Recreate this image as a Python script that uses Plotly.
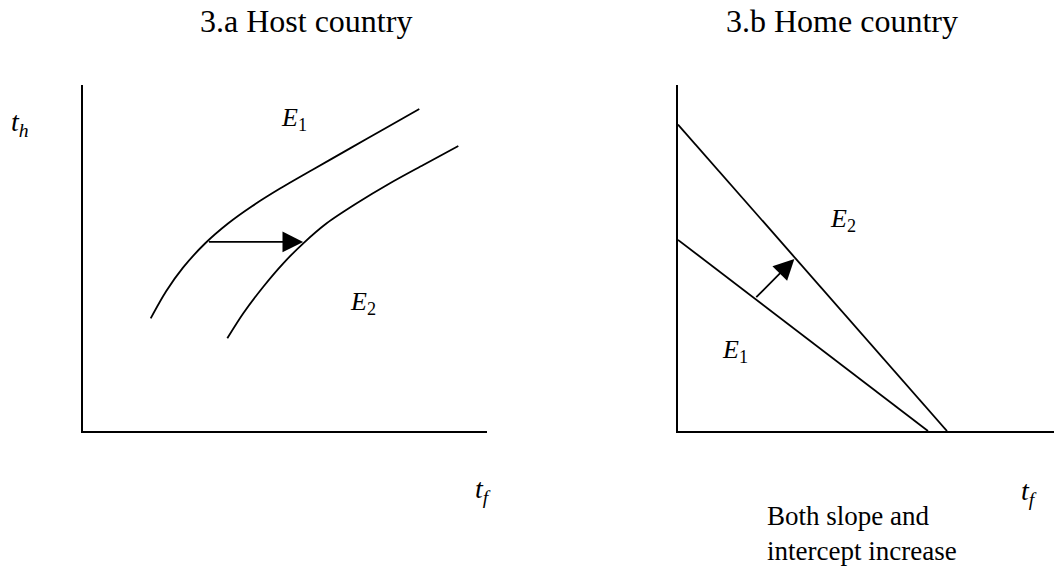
import plotly.graph_objects as go

# ---- data (diagram units, both panels span 0..10 on each axis) ----
host_e1_x = [1.676, 2.054, 2.475, 3.020, 3.589, 4.183, 4.876, 5.693, 6.609, 7.475, 8.324]
host_e1_y = [3.254, 4.028, 4.716, 5.414, 5.992, 6.491, 7.000, 7.551, 8.161, 8.735, 9.298]
host_e2_x = [3.572, 3.968, 4.463, 4.958, 5.453, 6.032, 6.775, 7.599, 8.423, 9.290]
host_e2_y = [2.677, 3.399, 4.167, 4.843, 5.420, 5.998, 6.575, 7.153, 7.681, 8.230]
host_arrow_from = (3.08, 5.46)
host_arrow_to = (5.45, 5.46)

home_upper_x = [0.0, 7.005]
home_upper_y = [8.85, 0.0]
home_lower_x = [0.0, 6.51]
home_lower_y = [5.52, 0.0]
home_arrow_from = (2.00, 3.82)
home_arrow_to = (3.03, 4.97)

titles = ["3.a Host country", "3.b Home country"]
note = "Both slope and<br>intercept increase"

# page has an 8px body margin; figure is sized so it ends at the window edge
OFF = 8
W, H = 1062 - OFF, 566 - OFF
def px(p):
    return (p - OFF) / W
def py(p):
    return 1 - (p - OFF) / H

SERIF = "Liberation Serif, Times New Roman, serif"
LW = 1.8

fig = go.Figure()
for xs, ys in [(host_e1_x, host_e1_y), (host_e2_x, host_e2_y)]:
    fig.add_trace(go.Scatter(x=xs, y=ys, mode="lines",
                             line=dict(color="black", width=LW, shape="spline", smoothing=0.8),
                             xaxis="x", yaxis="y", hoverinfo="skip"))
for xs, ys in [(home_upper_x, home_upper_y), (home_lower_x, home_lower_y)]:
    fig.add_trace(go.Scatter(x=xs, y=ys, mode="lines",
                             line=dict(color="black", width=LW),
                             xaxis="x2", yaxis="y2", hoverinfo="skip"))

ax_common = dict(showgrid=False, zeroline=False, showticklabels=False, ticks="",
                 showline=True, linecolor="black", linewidth=2, range=[0, 10],
                 fixedrange=True)
ydom = [py(431), py(84.7)]

fig.update_layout(
    width=W, height=H,
    margin=dict(l=0, r=0, t=0, b=0),
    paper_bgcolor="white", plot_bgcolor="white",
    showlegend=False,
    xaxis=dict(domain=[px(83), px(487)], anchor="y", **ax_common),
    yaxis=dict(domain=ydom, anchor="x", **ax_common),
    xaxis2=dict(domain=[px(678), 1.0], anchor="y2", **ax_common),
    yaxis2=dict(domain=ydom, anchor="x2", **ax_common),
)

ann = []
# arrows
ann.append(dict(x=host_arrow_to[0], y=host_arrow_to[1], ax=host_arrow_from[0], ay=host_arrow_from[1],
                xref="x", yref="y", axref="x", ayref="y", showarrow=True, text="",
                arrowhead=2, arrowsize=2.3, arrowwidth=1.8, arrowcolor="black", standoff=0))
ann.append(dict(x=home_arrow_to[0], y=home_arrow_to[1], ax=home_arrow_from[0], ay=home_arrow_from[1],
                xref="x2", yref="y2", axref="x2", ayref="y2", showarrow=True, text="",
                arrowhead=2, arrowsize=2.3, arrowwidth=1.8, arrowcolor="black", standoff=0))

def lab(text, x, y, xref, yref, size=26):
    ann.append(dict(text=text, x=x, y=y, xref=xref, yref=yref, showarrow=False,
                    font=dict(family=SERIF, size=size, color="black"),
                    xanchor="center", yanchor="middle"))

lab("<i>E</i><sub>1</sub>", 5.22, 9.0, "x", "y")
lab("<i>E</i><sub>2</sub>", 6.93, 3.7, "x", "y")
lab("<i>E</i><sub>2</sub>", 4.30, 6.08, "x2", "y2")
lab("<i>E</i><sub>1</sub>", 1.48, 2.3, "x2", "y2")
lab("<i>t</i><sub><i>h</i></sub>", px(20), py(123), "paper", "paper", size=28)
lab("<i>t</i><sub><i>f</i></sub>", px(483), py(490), "paper", "paper", size=28)
lab("<i>t</i><sub><i>f</i></sub>", px(1029), py(492), "paper", "paper", size=28)

title_font = dict(family=SERIF, size=32, color="black")
ann.append(dict(text=titles[0], x=px(306), y=py(21), xref="paper", yref="paper",
                showarrow=False, font=title_font, xanchor="center", yanchor="middle"))
ann.append(dict(text=titles[1], x=px(842), y=py(21), xref="paper", yref="paper",
                showarrow=False, font=title_font, xanchor="center", yanchor="middle"))
ann.append(dict(text=note, x=px(765), y=py(533), xref="paper", yref="paper",
                showarrow=False, font=dict(family=SERIF, size=27, color="black"),
                xanchor="left", yanchor="middle", align="left"))

fig.update_layout(annotations=ann)
fig.write_html("out.html")
